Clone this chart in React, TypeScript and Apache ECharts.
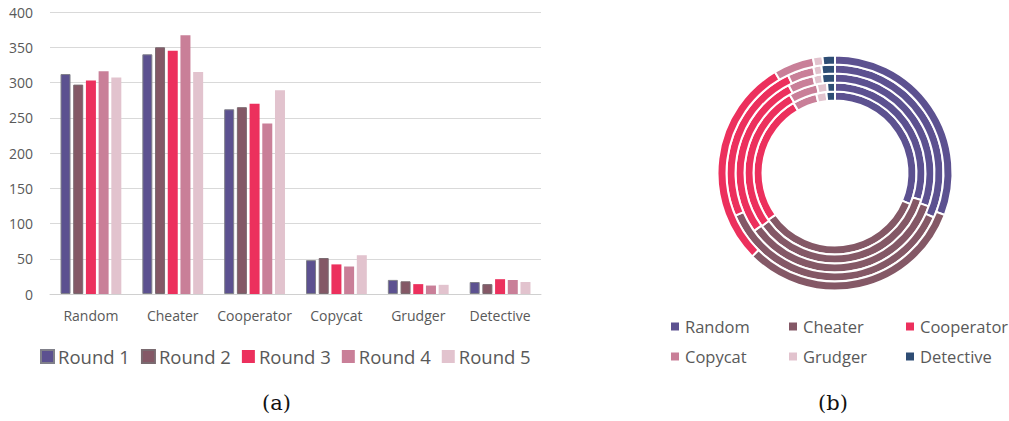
import React, { useEffect, useRef } from "react";
import * as echarts from "echarts";

const categories = ["Random", "Cheater", "Cooperator", "Copycat", "Grudger", "Detective"];
const rounds = ["Round 1", "Round 2", "Round 3", "Round 4", "Round 5"];
const round1 = [312, 340, 262, 48, 20, 17];
const round2 = [297, 350, 265, 51, 18, 14];
const round3 = [303, 345, 270, 42, 14, 21];
const round4 = [316, 367, 242, 39, 12, 20];
const round5 = [307, 315, 289, 55, 13, 17];
const roundValues = [round1, round2, round3, round4, round5];
const yTicks = [0, 50, 100, 150, 200, 250, 300, 350, 400];

const roundColors = ["#5C5190", "#845866", "#EC305D", "#C97F98", "#E2C3CE"];
const categoryColors = ["#5C5190", "#845866", "#EC305D", "#C97F98", "#E2C3CE", "#2E4D74"];

const FONT = "'Open Sans', 'Noto Sans', sans-serif";
const TXT = "#595959";

export default function App() {
  const ref = useRef<HTMLDivElement>(null);
  useEffect(() => {
    document.body.style.margin = "0";
    const chart = echarts.init(ref.current!, null, { renderer: "svg" });

    const barSeries = rounds.map((name, i) => ({
      type: "bar",
      name,
      data: roundValues[i],
      barWidth: 10,
      barGap: "27%",
      itemStyle: {
        color: roundColors[i],
        borderColor: i === 0 ? "#80808a" : i === 1 ? "#7a6a70" : roundColors[i],
        borderWidth: i < 2 ? 1 : 0,
      },
    }));

    const rIn = 72.5;
    const step = 9;
    const pieSeries = rounds.map((name, i) => ({
      type: "pie",
      name: "Pie " + name,
      center: [835, 173],
      radius: [rIn + i * step, rIn + (i + 1) * step],
      startAngle: 90,
      clockwise: true,
      label: { show: false },
      labelLine: { show: false },
      emphasis: { disabled: true },
      itemStyle: { borderColor: "#ffffff", borderWidth: 2 },
      data: categories.map((c, k) => ({
        name: c,
        value: roundValues[i][k],
        itemStyle: { color: categoryColors[k] },
      })),
    }));

    const pieLegendCols = [
      { left: 664, items: ["Random", "Copycat"] },
      { left: 782, items: ["Cheater", "Grudger"] },
      { left: 899, items: ["Cooperator", "Detective"] },
    ];

    chart.setOption({
      animation: false,
      textStyle: { fontFamily: FONT },
      grid: { left: 50, right: 1009 - 541, top: 12, bottom: 421 - 294, containLabel: false },
      xAxis: {
        type: "category",
        data: categories,
        axisTick: { show: false },
        axisLine: { lineStyle: { color: "#d0d0d0", width: 1 } },
        axisLabel: { color: TXT, fontSize: 14, margin: 14, fontFamily: FONT, interval: 0 },
      },
      yAxis: {
        type: "value",
        min: 0,
        max: 400,
        interval: 50,
        axisLine: { show: false },
        axisTick: { show: false },
        splitLine: { lineStyle: { color: "#d9d9d9", width: 1 } },
        axisLabel: {
          color: TXT,
          fontSize: 14,
          margin: 17,
          fontFamily: FONT,
          formatter: (v: number) => (yTicks.includes(v) ? String(v) : ""),
        },
      },
      legend: [
        {
          data: rounds,
          left: 35,
          top: 342,
          itemWidth: 13,
          itemHeight: 13,
          itemGap: 11,
          icon: "rect",
          textStyle: { color: TXT, fontSize: 18.5, fontFamily: FONT, padding: [0, 0, 0, -1] },
          selectedMode: false,
        },
        ...pieLegendCols.map((col) => ({
          data: col.items,
          orient: "vertical",
          left: col.left,
          top: 313,
          itemWidth: 10,
          itemHeight: 10,
          itemGap: 13,
          icon: "rect",
          textStyle: { color: TXT, fontSize: 16.5, fontFamily: FONT },
          selectedMode: false,
        })),
      ],
      graphic: [
        {
          type: "text",
          left: 262,
          top: 392,
          style: { text: "(a)", font: "21px 'DejaVu Serif', 'Liberation Serif', serif", fill: "#111" },
        },
        {
          type: "text",
          left: 818,
          top: 392,
          style: { text: "(b)", font: "21px 'DejaVu Serif', 'Liberation Serif', serif", fill: "#111" },
        },
      ],
      series: [...barSeries, ...pieSeries],
    });
    return () => chart.dispose();
  }, []);
  return <div ref={ref} style={{ width: 1009, height: 421 }} />;
}
